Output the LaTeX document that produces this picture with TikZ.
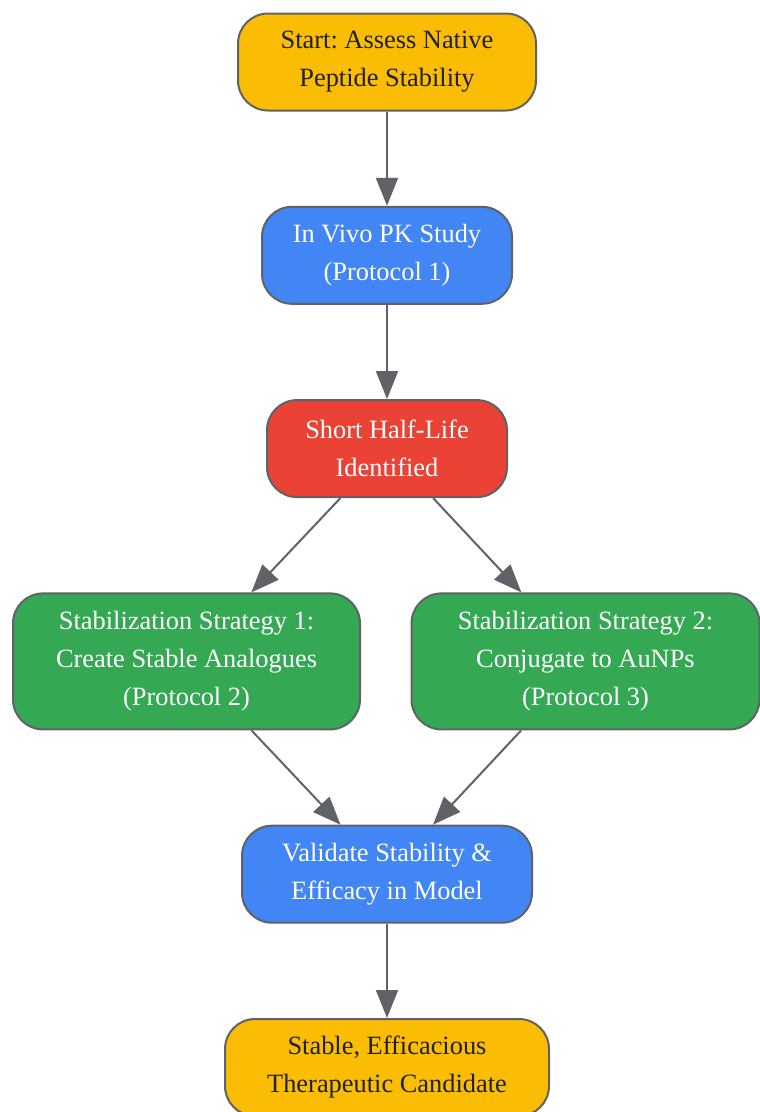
\documentclass[tikz,border=0pt]{standalone}
\usepackage{fontspec}
\setmainfont{Liberation Serif}
\frenchspacing
\usetikzlibrary{positioning, arrows.meta}
\definecolor{gYellow}{HTML}{FBBC04}
\definecolor{gBlue}{HTML}{4285F4}
\definecolor{gRed}{HTML}{EA4335}
\definecolor{gGreen}{HTML}{34A853}
\definecolor{edgegray}{HTML}{5F6368}
\definecolor{darktext}{HTML}{202124}
\tikzset{
->,% makes the edges directed
>={Triangle[length=28pt,width=22pt]}, % big filled arrow heads
node distance=94.3pt, % gap between two boxes
stage/.style={draw=edgegray, line width=2pt, rounded corners=30pt, align=center,
  inner xsep=10pt, inner ysep=0pt, minimum height=97pt,
  font=\fontsize{26.4}{38}\selectfont}, % common look of every box
terminal/.style={stage, fill=gYellow, text=darktext},
study/.style={stage, fill=gBlue, text=white},
alert/.style={stage, fill=gRed, text=white},
strategy/.style={stage, fill=gGreen, text=white, minimum height=136pt},
link/.style={color=edgegray, line width=2pt},
}

\begin{document}
\begin{tikzpicture}[x=1pt, y=1pt]
       \useasboundingbox (0,0) rectangle (760,-1112);
       \node[terminal, minimum width=298pt] (START) at (387,-62) {Start: Assess Native\\Peptide Stability};
       \node[study, below=of START, minimum width=250pt] (PK) {In Vivo PK Study\\(Protocol 1)};
       \node[alert, below=of PK, minimum width=240pt] (HALF) {Short Half-Life\\Identified};
       \node[strategy, below=of HALF, xshift=-200.5pt, minimum width=347pt] (S1) {Stabilization Strategy 1:\\Create Stable Analogues\\(Protocol 2)};
       \node[strategy, below=of HALF, xshift=198.5pt, minimum width=348pt] (S2) {Stabilization Strategy 2:\\Conjugate to AuNPs\\(Protocol 3)};
       \node[study, below=of S1, xshift=200.5pt, minimum width=290pt] (VAL) {Validate Stability \&\\Efficacy in Model};
       \node[terminal, below=of VAL, minimum width=324pt] (END) {Stable, Efficacious\\Therapeutic Candidate};

       \draw[link] (START) edge (PK)
             (PK) edge (HALF)
             (HALF) edge (S1)
             (HALF) edge (S2)
             (S1) edge (VAL)
             (S2) edge (VAL)
             (VAL) edge (END);
\end{tikzpicture}
\end{document}
